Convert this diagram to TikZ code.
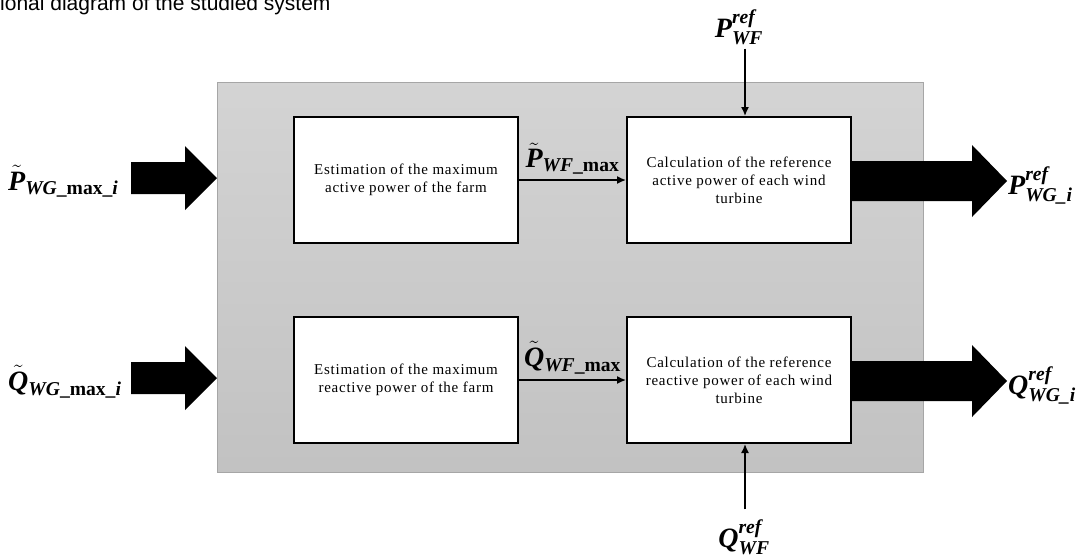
\documentclass[tikz,border=0pt]{standalone}
\usepackage{fix-cm}
\usepackage{amsmath}
\usepackage{fontspec}
\setmainfont{Liberation Serif}
\newfontfamily\boxfont{Liberation Serif}[LetterSpace=5]
\newfontfamily\titlefont{Liberation Sans}
\usetikzlibrary{arrows.meta, positioning}

\newcommand{\bi}[1]{\text{\bfseries\itshape #1}}
\newcommand{\bu}[1]{\text{\bfseries\upshape #1}}

\tikzset{
  stage/.style={draw, line width=2pt, fill=white, minimum width=224, minimum height=126,
    align=center, font=\boxfont\fontsize{15}{18}\selectfont},
  sig/.style={inner sep=0pt, font=\fontsize{28}{32}\selectfont},
  thinarrow/.style={-{Latex[length=9pt,width=8pt]}, line width=1.5pt},
}

\begin{document}
\begin{tikzpicture}[x=1pt, y=-1pt]
    \useasboundingbox (0,0) rectangle (1086,557);

    % cut title line
    \begin{scope}
        \clip (0,0) rectangle (1086,557);
        \node[anchor=base west, inner sep=0pt, font=\titlefont\fontsize{21}{24}\selectfont] (title) at (0,10) {ional diagram of the studied system};
    \end{scope}

    % grey panel
    \fill[top color=black!17, bottom color=black!24, draw=black!35] (217,82) rectangle (923,472);

    % blocks
    \node[stage] (est1) at (406,180) {Estimation of the maximum\\active power of the farm};
    \node[stage] (calc1) at (739,180) {Calculation of the reference\\active power of each wind\\turbine};
    \node[stage] (est2) at (406,380) {Estimation of the maximum\\reactive power of the farm};
    \node[stage] (calc2) at (739,380) {Calculation of the reference\\reactive power of each wind\\turbine};

    % inner links
    \draw[thinarrow] (est1) -- (calc1) node[midway, above=5pt, sig] {$\tilde{\bi{P}}_{\bi{WF}\bu{\_max}}$};
    \draw[thinarrow] (est2) -- (calc2) node[midway, above=5pt, sig] {$\tilde{\bi{Q}}_{\bi{WF}\bu{\_max}}$};

    % references from outside
    \node[sig] (pref) at (739,27) {$\bi{P}^{\bi{ref}}_{\bi{WF}}$};
    \node[sig] (qref) at (744,537) {$\bi{Q}^{\bi{ref}}_{\bi{WF}}$};
    \draw[thinarrow] ([xshift=6pt]calc1.north |- pref.south) ++(0,4) -- ([xshift=6pt]calc1.north);
    \draw[thinarrow] ([xshift=6pt]calc2.south |- qref.north) ++(0,-10) -- ([xshift=6pt]calc2.south);

    % wide input arrows
    \fill (131,162) -- (185,162) -- (185,146) -- (217,178) -- (185,210) -- (185,194) -- (131,194) -- cycle;
    \fill (131,362) -- (185,362) -- (185,346) -- (217,378) -- (185,410) -- (185,394) -- (131,394) -- cycle;
    \node[sig, anchor=base west] (pin) at (8,190) {$\tilde{\bi{P}}_{\bi{WG}\bu{\_max\_}\bi{i}}$};
    \node[sig, anchor=base west] (qin) at (8,390) {$\tilde{\bi{Q}}_{\bi{WG}\bu{\_max\_}\bi{i}}$};

    % wide output arrows
    \fill (852,161) -- (972,161) -- (972,145) -- (1007,181) -- (972,217) -- (972,201) -- (852,201) -- cycle;
    \fill (852,361) -- (972,361) -- (972,345) -- (1007,381) -- (972,417) -- (972,401) -- (852,401) -- cycle;
    \node[sig, anchor=base west] (pout) at (1008,194) {$\bi{P}^{\bi{ref}}_{\bi{WG\_i}}$};
    \node[sig, anchor=base west] (qout) at (1008,394) {$\bi{Q}^{\bi{ref}}_{\bi{WG\_i}}$};
\end{tikzpicture}
\end{document}
